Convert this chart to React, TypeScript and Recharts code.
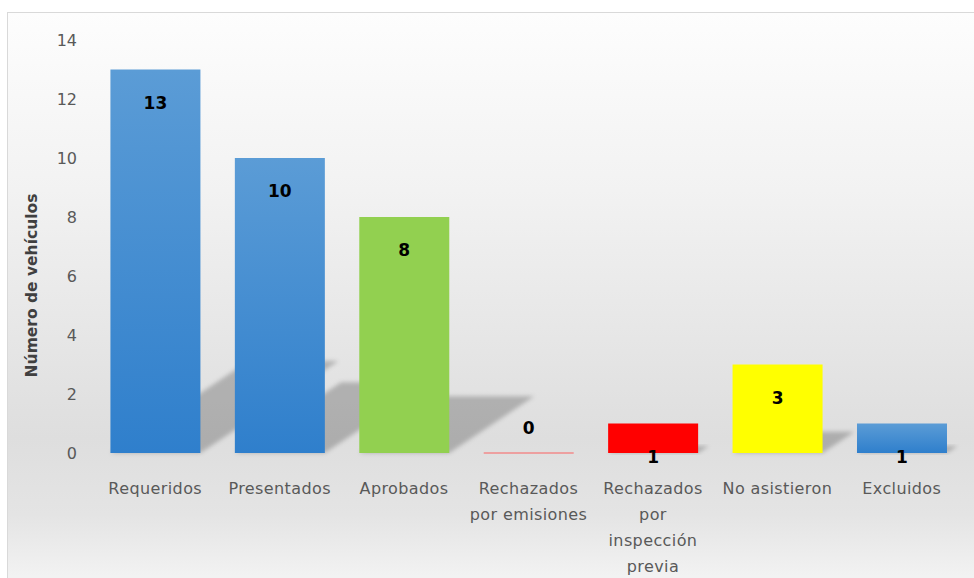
import { BarChart, Bar, XAxis, YAxis, Cell, LabelList, Label } from 'recharts';

const categories = [
	'Requeridos',
	'Presentados',
	'Aprobados',
	'Rechazados\npor emisiones',
	'Rechazados\npor\ninspección\nprevia',
	'No asistieron',
	'Excluidos',
];
const vehiculos = [13, 10, 8, 0, 1, 3, 1];
const barColors = [
	'url(#blueGrad)',
	'url(#blueGrad)',
	'#92d050',
	'#ff0000',
	'#ff0000',
	'#ffff00',
	'url(#blueGrad)',
];
const yTicks = [0, 2, 4, 6, 8, 10, 12, 14];

const data = categories.map((name, i) => ({ name, value: vehiculos[i] }));

const FONT = '"DejaVu Sans", sans-serif';

// bar with a skewed drop shadow going up-right, like the Excel perspective shadow
function ShadowBar(props: any) {
	const { x, y, width, height, fill } = props;
	const base = y + height;
	if (height <= 0.5) {
		return <line x1={x} x2={x + width} y1={base} y2={base} stroke="#f28b8b" strokeWidth={1.5} />;
	}
	const dx = height * 0.36;
	const dy = height * 0.24;
	const pts = `${x},${base} ${x + width},${base} ${x + width + dx},${base - dy} ${x + dx},${base - dy}`;
	return (
		<g>
			<polygon points={pts} fill="#000" fillOpacity={0.22} filter="url(#shadowBlur)" />
			<rect x={x} y={y} width={width} height={height} fill={fill} />
		</g>
	);
}

function ValueLabel(props: any) {
	const { x, y, width, value } = props;
	const cy = value > 0 ? y + 33 : y - 25;
	return (
		<text
			x={x + width / 2}
			y={cy}
			textAnchor="middle"
			dominantBaseline="central"
			fontFamily={FONT}
			fontWeight="bold"
			fontSize={17}
			fill="#000"
		>
			{value}
		</text>
	);
}

function CategoryTick(props: any) {
	const { x, y, payload } = props;
	const lines = String(payload.value).split('\n');
	return (
		<g transform={`translate(${x},${y})`}>
			{lines.map((line, i) => (
				<text
					key={i}
					x={0}
					y={27 + i * 26}
					textAnchor="middle"
					dominantBaseline="central"
					fontFamily={FONT}
					fontSize={16}
					letterSpacing={0.4}
					fill="#595959"
				>
					{line}
				</text>
			))}
		</g>
	);
}

export default function App() {
	return (
		<div
			style={{
				position: 'absolute',
				left: 7,
				top: 12,
				width: 990,
				height: 590,
				border: '1px solid #d9d9d9',
				background:
					'linear-gradient(to bottom, #fdfdfd 0%, #f2f2f2 30%, #dedede 72%, #e4e4e4 85%, #f8f8f8 100%)',
			}}
		>
			<BarChart
				width={967}
				height={565}
				data={data}
				margin={{ top: 27, right: 11, bottom: 25, left: 25 }}
				barCategoryGap="14%"
			>
				<defs>
					<linearGradient id="blueGrad" x1="0" y1="0" x2="0" y2="1">
						<stop offset="0%" stopColor="#5b9cd6" />
						<stop offset="100%" stopColor="#2f7fcc" />
					</linearGradient>
					<filter id="shadowBlur" x="-20%" y="-20%" width="140%" height="140%">
						<feGaussianBlur stdDeviation="2" />
					</filter>
				</defs>
				<XAxis
					dataKey="name"
					axisLine={false}
					tickLine={false}
					interval={0}
					height={100}
					tick={<CategoryTick />}
				/>
				<YAxis
					domain={[0, 14]}
					ticks={yTicks}
					width={60}
					axisLine={false}
					tickLine={false}
					tickMargin={10}
					tick={{ fontFamily: FONT, fontSize: 16, fill: '#595959' }}
				>
					<Label
						content={(p: any) => {
							const vb = p.viewBox;
							const cx = vb.x - 1;
							const cy = vb.y + vb.height / 2 + 39;
							return (
								<text
									x={cx}
									y={cy}
									transform={`rotate(-90 ${cx} ${cy})`}
									textAnchor="middle"
									dominantBaseline="central"
									fontFamily={FONT}
									fontWeight="bold"
									fontSize={15.5}
									fill="#404040"
								>
									Número de vehículos
								</text>
							);
						}}
					/>
				</YAxis>
				<Bar dataKey="value" isAnimationActive={false} shape={<ShadowBar />}>
					{data.map((d, i) => (
						<Cell key={d.name} fill={barColors[i]} />
					))}
					<LabelList dataKey="value" content={<ValueLabel />} />
				</Bar>
			</BarChart>
		</div>
	);
}
